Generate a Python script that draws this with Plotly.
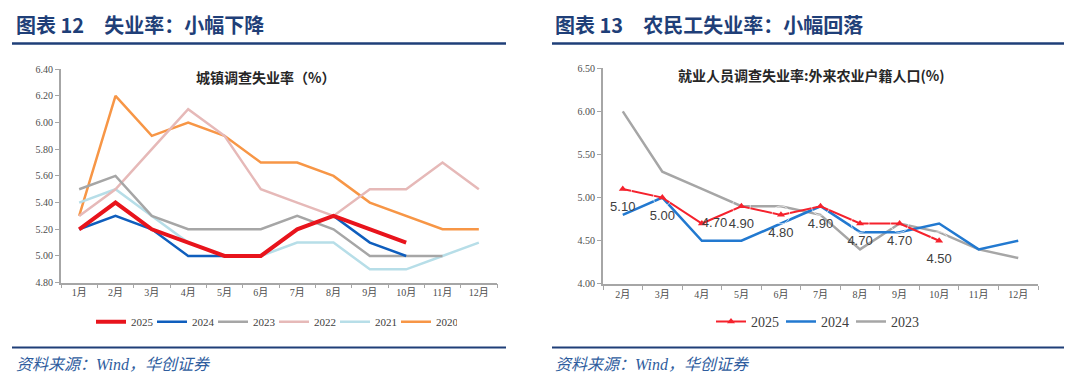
import plotly.graph_objects as go

# ---------------- data ----------------
months_left = ["1月", "2月", "3月", "4月", "5月", "6月", "7月", "8月", "9月", "10月", "11月", "12月"]
urban_2025 = [5.2, 5.4, 5.2, 5.1, 5.0, 5.0, 5.2, 5.3, 5.2, 5.1]
urban_2024 = [5.2, 5.3, 5.2, 5.0, 5.0, 5.0, 5.2, 5.3, 5.1, 5.0]
urban_2023 = [5.5, 5.6, 5.3, 5.2, 5.2, 5.2, 5.3, 5.2, 5.0, 5.0, 5.0]
urban_2022 = [5.3, 5.5, 5.8, 6.1, 5.9, 5.5, 5.4, 5.3, 5.5, 5.5, 5.7, 5.5]
urban_2021 = [5.4, 5.5, 5.3, 5.1, 5.0, 5.0, 5.1, 5.1, 4.9, 4.9, 5.0, 5.1]
urban_2020 = [5.3, 6.2, 5.9, 6.0, 5.9, 5.7, 5.7, 5.6, 5.4, 5.3, 5.2, 5.2]
left_ticks = [4.8, 5.0, 5.2, 5.4, 5.6, 5.8, 6.0, 6.2, 6.4]

months_right = ["2月", "3月", "4月", "5月", "6月", "7月", "8月", "9月", "10月", "11月", "12月"]
migrant_2025 = [5.1, 5.0, 4.7, 4.9, 4.8, 4.9, 4.7, 4.7, 4.5]
migrant_2024 = [4.8, 5.0, 4.5, 4.5, 4.7, 4.9, 4.6, 4.6, 4.7, 4.4, 4.5]
migrant_2023 = [6.0, 5.3, 5.1, 4.9, 4.9, 4.8, 4.4, 4.7, 4.6, 4.4, 4.3]
right_ticks = [4.0, 4.5, 5.0, 5.5, 6.0, 6.5]

# ---------------- styles ----------------
NAVY = "#1F3F78"
SRC = "#2F5D9E"
AXIS = "#A6A6A6"
TICKFONT = dict(family="Liberation Serif, Noto Sans CJK SC", size=10, color="#4D4D4D")

fig = go.Figure()

left_series = [
    ("2020", urban_2020, "#F79646", 2.5),
    ("2021", urban_2021, "#B7DEE8", 2.5),
    ("2022", urban_2022, "#E6B9B8", 2.5),
    ("2023", urban_2023, "#A6A6A6", 2.5),
    ("2024", urban_2024, "#0F5EBD", 2.5),
    ("2025", urban_2025, "#E8141C", 4),
]
for name, vals, color, w in left_series:
    fig.add_trace(go.Scatter(
        x=months_left[:len(vals)], y=vals, name=name, mode="lines",
        line=dict(color=color, width=w), xaxis="x", yaxis="y", legend="legend",
        hoverinfo="skip"))

right_series = [
    ("2023", migrant_2023, "#A6A6A6"),
    ("2024", migrant_2024, "#2279D0"),
]
for name, vals, color in right_series:
    fig.add_trace(go.Scatter(
        x=months_right[:len(vals)], y=vals, name=name, mode="lines",
        line=dict(color=color, width=2.5), xaxis="x2", yaxis="y2", legend="legend2",
        hoverinfo="skip"))

fig.add_trace(go.Scatter(
    x=months_right[:len(migrant_2025)], y=migrant_2025, name="2025", mode="lines+markers",
    line=dict(color="#F5222D", width=2), marker=dict(symbol="triangle-up", size=7, color="#F5222D"),
    xaxis="x2", yaxis="y2", legend="legend2", hoverinfo="skip"))

label_pos = ["bottom center"] * len(migrant_2025)
label_size = [18] * len(migrant_2025)
label_pos[2] = "middle right"
label_size[2] = 0
fig.add_trace(go.Scatter(
    x=months_right[:len(migrant_2025)], y=migrant_2025, mode="markers+text",
    text=[f"{v:.2f}" for v in migrant_2025], textposition=label_pos,
    textfont=dict(family="Liberation Sans, Arial", size=13, color="#404040"),
    marker=dict(size=label_size, color="rgba(0,0,0,0)"),
    xaxis="x2", yaxis="y2", showlegend=False, hoverinfo="skip"))

axis_common = dict(showgrid=False, zeroline=False, showline=True, linecolor=AXIS,
                   ticks="outside", tickcolor=AXIS, ticklen=4, tickfont=TICKFONT, fixedrange=True)

fig.update_layout(
    width=1080, height=390, autosize=False,
    margin=dict(l=0, r=0, t=0, b=0),
    paper_bgcolor="white", plot_bgcolor="white",
    showlegend=True,
    xaxis=dict(domain=[61/1080, 497/1080], anchor="y", type="category",
               categoryorder="array", categoryarray=months_left, range=[-0.5, 11.5],
               tickson="boundaries", linewidth=1.5, **axis_common),
    yaxis=dict(domain=[(390-285.7)/390, (390-66)/390], anchor="x", range=[4.8, 6.4],
               tickvals=left_ticks, ticktext=[f"{v:.2f}" for v in left_ticks],
               linewidth=2, **axis_common),
    xaxis2=dict(domain=[603/1080, 1038/1080], anchor="y2", type="category",
                categoryorder="array", categoryarray=months_right, range=[-0.5, 10.5],
                tickson="boundaries", linewidth=1.5, **axis_common),
    yaxis2=dict(domain=[(390-287)/390, (390-65)/390], anchor="x2", range=[4.0, 6.5],
                tickvals=right_ticks, ticktext=[f"{v:.2f}" for v in right_ticks],
                linewidth=2, **axis_common),
    legend=dict(orientation="h", x=91/1080, xanchor="left", y=(390-326)/390, yanchor="middle",
                traceorder="reversed", entrywidth=16, entrywidthmode="pixels",
                font=dict(family="Liberation Serif", size=11, color="#404040"),
                bgcolor="rgba(0,0,0,0)", borderwidth=0),
    legend2=dict(orientation="h", x=711/1080, xanchor="left", y=(390-326)/390, yanchor="middle",
                 traceorder="reversed", entrywidth=25, entrywidthmode="pixels",
                 font=dict(family="Liberation Serif", size=14, color="#404040"),
                 bgcolor="rgba(0,0,0,0)", borderwidth=0),
)

ann = []
ann.append(dict(text="<b>图表 12　失业率：小幅下降</b>", x=14/1080, y=(390-20)/390,
                xref="paper", yref="paper", xanchor="left", yanchor="middle", showarrow=False,
                font=dict(family="Noto Sans CJK SC", size=20, color=NAVY)))
ann.append(dict(text="<b>图表 13　农民工失业率：小幅回落</b>", x=553/1080, y=(390-20)/390,
                xref="paper", yref="paper", xanchor="left", yanchor="middle", showarrow=False,
                font=dict(family="Noto Sans CJK SC", size=20, color=NAVY)))
ann.append(dict(text="<b>城镇调查失业率（%）</b>", x=265/1080, y=(390-74)/390,
                xref="paper", yref="paper", xanchor="center", yanchor="middle", showarrow=False,
                font=dict(family="Noto Sans CJK SC", size=14, color="#262626")))
ann.append(dict(text="<b>就业人员调查失业率:外来农业户籍人口(%)</b>", x=811/1080, y=(390-72)/390,
                xref="paper", yref="paper", xanchor="center", yanchor="middle", showarrow=False,
                font=dict(family="Noto Sans CJK SC", size=14, color="#262626")))
for x0 in (14, 553):
    ann.append(dict(text="<i>资料来源：Wind，华创证券</i>", x=x0/1080, y=(390-370)/390,
                    xref="paper", yref="paper", xanchor="left", yanchor="middle", showarrow=False,
                    font=dict(family="Liberation Serif, Noto Sans CJK SC", size=16, color=SRC)))
fig.update_layout(annotations=ann)

shapes = []
for x0, x1 in ((12, 506), (552, 1064)):
    shapes.append(dict(type="line", xref="paper", yref="paper", x0=x0/1080, x1=x1/1080,
                       y0=(390-39.5)/390, y1=(390-39.5)/390, line=dict(color=NAVY, width=2.5)))
    shapes.append(dict(type="line", xref="paper", yref="paper", x0=x0/1080, x1=x1/1080,
                       y0=(390-352.5)/390, y1=(390-352.5)/390, line=dict(color=NAVY, width=2)))
fig.update_layout(shapes=shapes)

fig.write_html("out.html", config={"displayModeBar": False},
               post_script="document.body.style.margin='0';document.body.style.overflow='hidden';")
